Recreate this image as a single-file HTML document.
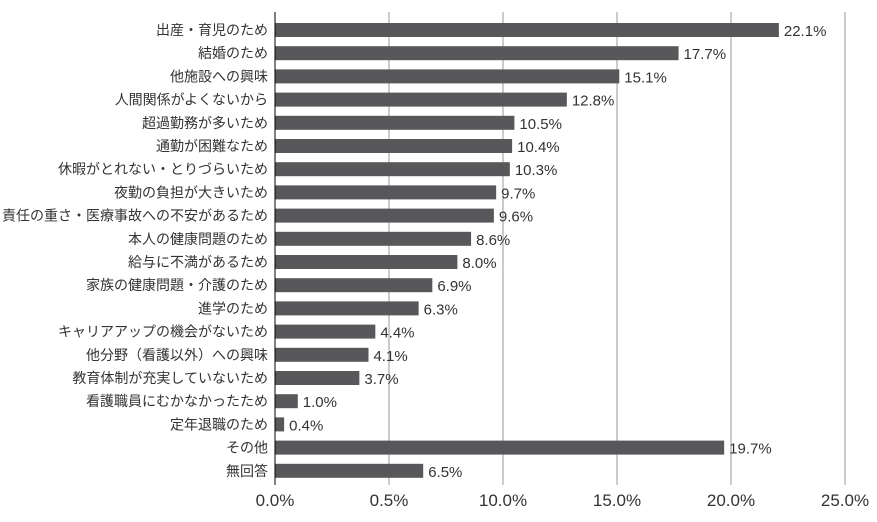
<!DOCTYPE html>
<html><head><meta charset="utf-8"><style>
body{margin:0;background:#fff;}
svg{display:block;font-family:"Liberation Sans","Noto Sans CJK JP",sans-serif;}
</style></head><body>
<svg id="c" width="877" height="522"></svg>
<script>
const categories=["出産・育児のため","結婚のため","他施設への興味","人間関係がよくないから","超過勤務が多いため","通勤が困難なため","休暇がとれない・とりづらいため","夜勤の負担が大きいため","責任の重さ・医療事故への不安があるため","本人の健康問題のため","給与に不満があるため","家族の健康問題・介護のため","進学のため","キャリアアップの機会がないため","他分野（看護以外）への興味","教育体制が充実していないため","看護職員にむかなかったため","定年退職のため","その他","無回答"];
const values=[22.1,17.7,15.1,12.8,10.5,10.4,10.3,9.7,9.6,8.6,8.0,6.9,6.3,4.4,4.1,3.7,1.0,0.4,19.7,6.5];
const ticks=[0,5,10,15,20,25];
const tickLabels=["0.0%","0.5%","10.0%","15.0%","20.0%","25.0%"];
const NS="http://www.w3.org/2000/svg";
const svg=document.getElementById('c');
const x0=275,pxPer=22.8,topY=12,pitch=23.2,barH=14;
const xs=v=>x0+v*pxPer;
const ys=i=>topY+11+i*pitch;
function mk(t,a){const e=document.createElementNS(NS,t);for(const k in a)e.setAttribute(k,a[k]);svg.appendChild(e);return e;}
ticks.forEach((t,i)=>{
 if(i>0){const g=mk('line',{x1:xs(t),x2:xs(t),y1:topY,y2:485,stroke:'#999','stroke-width':1});
 
 }
 const l=mk('text',{x:xs(t),y:506,'text-anchor':'middle','font-size':17,fill:'#333'});
 l.textContent=tickLabels[i];
 
 
});
categories.forEach((c,i)=>{
 const y=ys(i);
 const r=mk('rect',{x:x0,y:y,width:xs(values[i])-x0,height:barH,fill:'#58585a'});
 
 
 const t=mk('text',{x:268,y:y+12,'text-anchor':'end','font-size':14,fill:'#333'});
 t.textContent=c;
 
 
 const v=mk('text',{x:xs(values[i])+5,y:y+13,'font-size':15,fill:'#333'});
 v.textContent=values[i].toFixed(1)+'%';
 
 
});
const ax=mk('line',{x1:x0,x2:x0,y1:topY,y2:485,stroke:'#000','stroke-width':1});


</script>
</body></html>
